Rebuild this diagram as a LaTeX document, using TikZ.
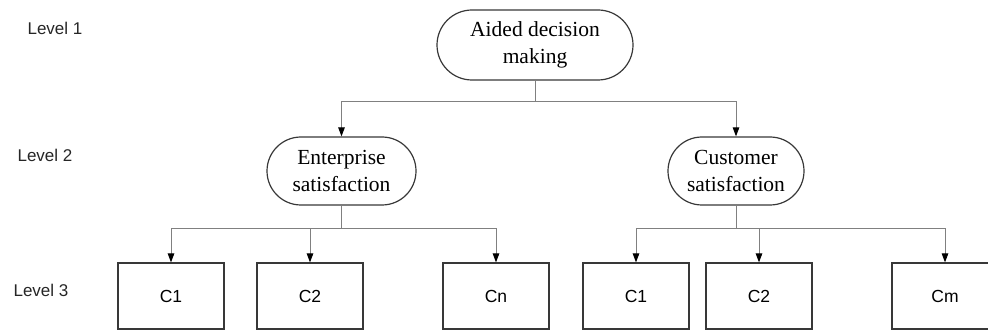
\documentclass[tikz,border=0pt]{standalone}
\usepackage{fontspec}
\setmainfont{Liberation Serif}
\setsansfont{Liberation Sans}
\usetikzlibrary{arrows.meta,shapes.misc}

\begin{document}
\begin{tikzpicture}[x=1pt,y=-1pt,
  goal/.style={rounded rectangle,draw=black!78,line width=1.2pt,minimum height=68pt,align=center,
    font=\fontsize{21.5}{27}\selectfont,inner sep=2pt},
  crit/.style={rectangle,draw=black!78,line width=1.2pt,minimum width=106pt,minimum height=66pt,
    font=\sffamily\fontsize{17.5}{20}\selectfont},
  lvl/.style={font=\sffamily\fontsize{17}{20}\selectfont,text=black!85},
  link/.style={draw=black!50,line width=1pt},
  arr/.style={link,-{Triangle[length=9pt,width=6.5pt,color=black]}}]
 	\useasboundingbox (0,0) rectangle (988,331);
 	\node[lvl] (l1) at (55,28) {Level 1};
 	\node[lvl] (l2) at (45,155) {Level 2};
 	\node[lvl] (l3) at (41,290) {Level 3};
 	% goals
 	\node[goal,minimum width=200pt,minimum height=70pt] (adm) at (535,45) {Aided decision\\making};
 	\node[goal,minimum width=153pt] (ent) at (341.5,171) {Enterprise\\satisfaction};
 	\node[goal,minimum width=140pt] (cus) at (736,171) {Customer\\satisfaction};
 	% criteria
 	\node[crit] (e1) at (171,296) {C1};
 	\node[crit] (e2) at (310,296) {C2};
 	\node[crit] (en) at (496,296) {Cn};
 	\node[crit] (c1) at (636,296) {C1};
 	\node[crit] (c2) at (759,296) {C2};
 	\node[crit] (cm) at (945,296) {Cm};
 	% links
 	\coordinate (j0) at (535,102);
 	\coordinate (j1) at (341.5,229);
 	\coordinate (j2) at (736,229);
 	\draw[link] (adm.south) -- (j0);
 	\draw[arr] (j0) -| (ent.north);
 	\draw[arr] (j0) -| (cus.north);
 	\draw[link] (ent.south) -- (j1);
 	\draw[arr] (j1) -| (e1.north);
 	\draw[arr] (j1) -| (e2.north);
 	\draw[arr] (j1) -| (en.north);
 	\draw[link] (cus.south) -- (j2);
 	\draw[arr] (j2) -| (c1.north);
 	\draw[arr] (j2) -| (c2.north);
 	\draw[arr] (j2) -| (cm.north);
\end{tikzpicture}
\end{document}
